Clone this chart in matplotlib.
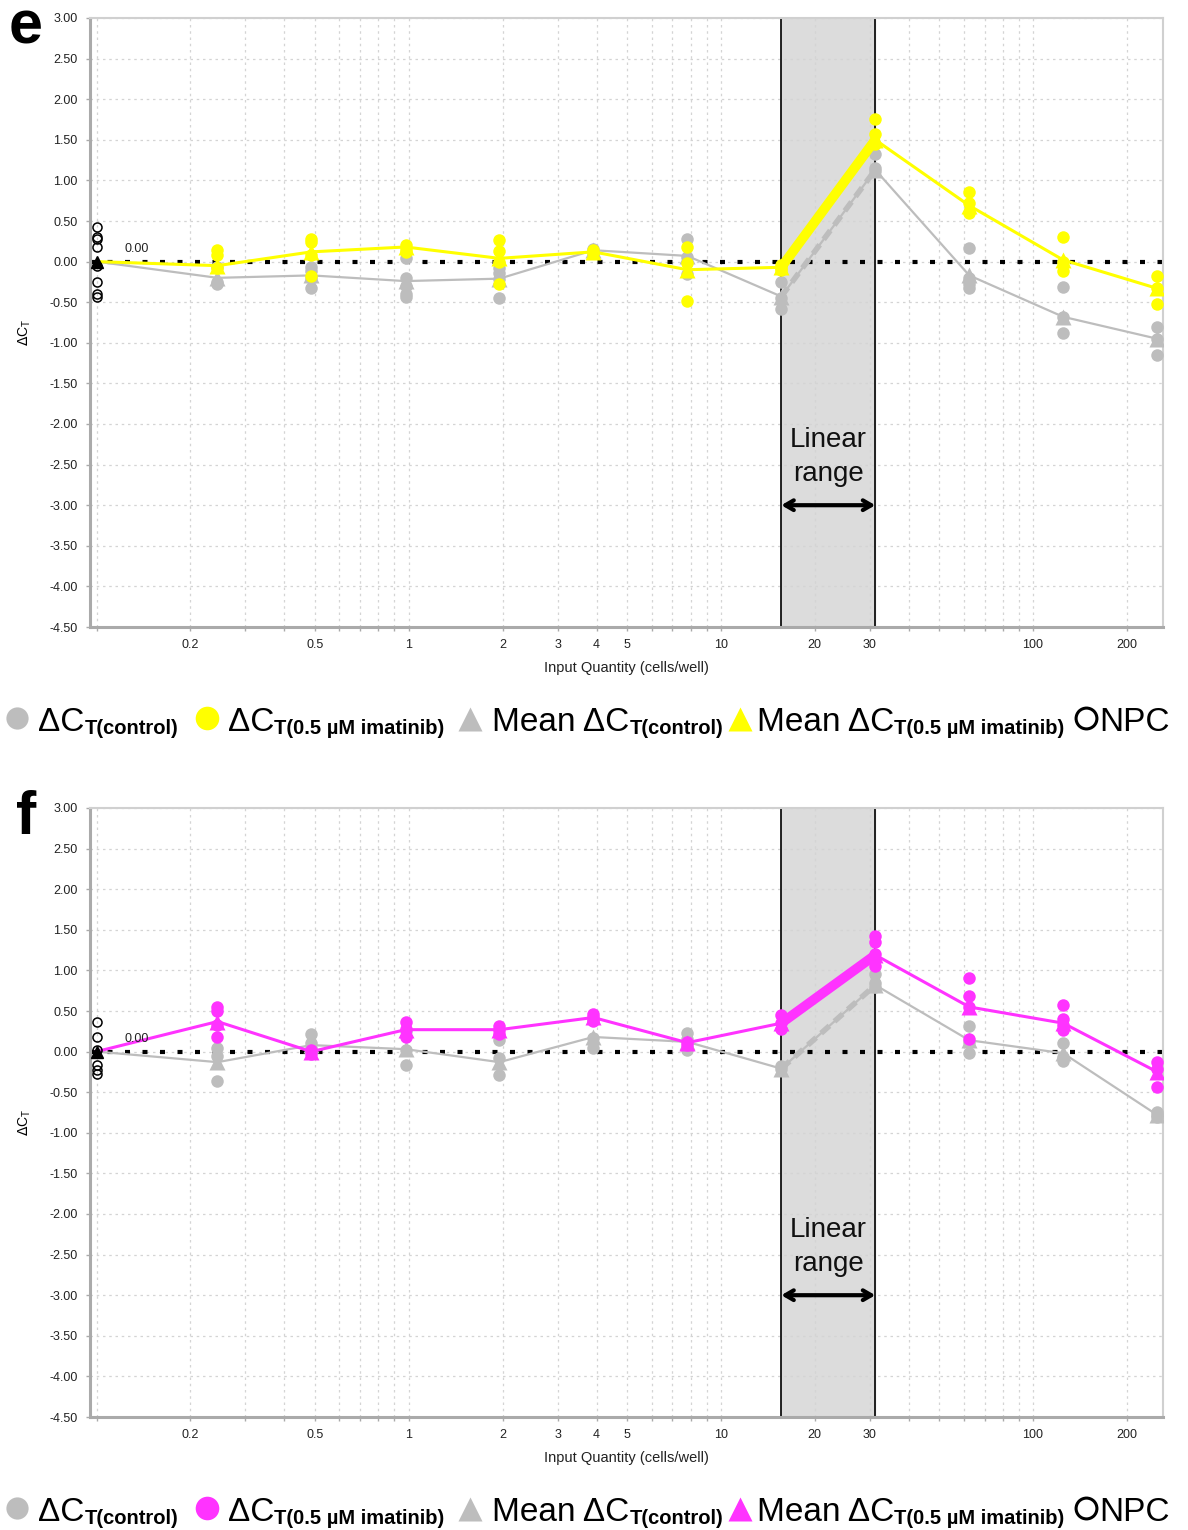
import numpy as np
import matplotlib
matplotlib.use("Agg")
import matplotlib.pyplot as plt
from matplotlib.ticker import NullLocator

# ---------------- data ----------------
x_start = 0.1
x_levels = [0.244, 0.488, 0.977, 1.953, 3.906, 7.8125, 15.625, 31.25, 62.5, 125, 250]
linear_range = [15.625, 31.25]

npc_e = [0.43, 0.30, 0.28, 0.18, -0.05, -0.25, -0.40, -0.43]
ctrl_e_pts = [
    [-0.07, -0.25, -0.28],
    [-0.07, -0.12, -0.20, -0.33],
    [0.05, -0.20, -0.30, -0.40, -0.43],
    [-0.08, -0.14, -0.22, -0.45],
    [0.15, 0.12],
    [0.28, 0.06, -0.15],
    [-0.25, -0.45, -0.58],
    [1.32, 1.15, 1.12],
    [0.17, -0.20, -0.28, -0.33],
    [-0.31, -0.68, -0.88],
    [-0.80, -0.95, -1.15]]
ctrl_e_mean = [-0.20, -0.17, -0.24, -0.21, 0.14, 0.07, -0.43, 1.13, -0.17, -0.68, -0.95]
imat_e_pts = [
    [0.14, 0.08, -0.08],
    [0.28, 0.24, 0.08, -0.18],
    [0.20, 0.16, 0.12],
    [0.27, 0.13, 0.0, -0.27],
    [0.14, 0.11],
    [0.18, -0.02, -0.48],
    [-0.04, -0.08, -0.10],
    [1.75, 1.57, 1.45],
    [0.86, 0.72, 0.60],
    [0.30, 0.0, -0.12],
    [-0.18, -0.33, -0.52]]
imat_e_mean = [-0.05, 0.12, 0.18, 0.04, 0.12, -0.10, -0.07, 1.50, 0.69, 0.02, -0.33]

npc_f = [0.36, 0.18, 0.02, -0.17, -0.23, -0.27]
ctrl_f_pts = [
    [0.04, -0.05, -0.36],
    [0.22, 0.10, 0.04],
    [0.25, 0.02, -0.16],
    [0.14, -0.08, -0.29],
    [0.40, 0.17, 0.05],
    [0.23, 0.15, 0.02],
    [-0.18, -0.22],
    [0.95, 0.85, 0.80],
    [0.32, 0.12, -0.02],
    [0.10, -0.07, -0.12],
    [-0.74, -0.78, -0.80]]
ctrl_f_mean = [-0.13, 0.08, 0.03, -0.13, 0.18, 0.12, -0.21, 0.82, 0.14, -0.02, -0.78]
imat_f_pts = [
    [0.55, 0.50, 0.33, 0.18],
    [0.02, -0.03],
    [0.36, 0.28, 0.18],
    [0.32, 0.27, 0.22],
    [0.46, 0.42, 0.38],
    [0.12, 0.08],
    [0.45, 0.35, 0.28],
    [1.42, 1.35, 1.20, 1.05],
    [0.91, 0.68, 0.55, 0.15],
    [0.57, 0.40, 0.33, 0.26],
    [-0.13, -0.22, -0.44]]
imat_f_mean = [0.37, 0.0, 0.27, 0.27, 0.42, 0.11, 0.35, 1.19, 0.55, 0.35, -0.25]

x_tick_labels = {0.2: "0.2", 0.5: "0.5", 1: "1", 2: "2", 3: "3", 4: "4", 5: "5",
                 10: "10", 20: "20", 30: "30", 100: "100", 200: "200"}
y_ticks = [3.0, 2.5, 2.0, 1.5, 1.0, 0.5, 0.0, -0.5, -1.0, -1.5, -2.0, -2.5, -3.0, -3.5, -4.0, -4.5]

GRAY = "#bdbdbd"
YELLOW = "#ffff00"
MAGENTA = "#ff33ff"
FONT = "Liberation Sans"

W, H = 1188, 1530
plt.rcParams["font.family"] = [FONT, "DejaVu Sans"]
fig = plt.figure(figsize=(W / 100, H / 100), dpi=100)


def setup_axes(ax):
    ax.set_xscale("log")
    ax.set_xlim(0.0953, 261)
    ax.set_ylim(-4.5, 3.0)
    grid_x = [m * 10.0 ** e for e in (-1, 0, 1, 2) for m in range(1, 10) if m * 10.0 ** e <= 260]
    ax.set_xticks(grid_x)
    labels = []
    for v in grid_x:
        lab = ""
        for k, s in x_tick_labels.items():
            if abs(v - k) < 1e-6:
                lab = s
        labels.append(lab)
    ax.set_xticklabels(labels)
    ax.xaxis.set_minor_locator(NullLocator())
    ax.set_yticks(y_ticks)
    ax.set_yticklabels([f"{v:.2f}" for v in y_ticks])
    ax.tick_params(axis="both", labelsize=9, colors="#aaaaaa", labelcolor="#222222",
                   length=3, width=1, pad=6)
    ax.grid(True, which="major", color="#d4d4d4", ls=(0, (2, 3)), lw=0.9)
    for s in ("left", "bottom"):
        ax.spines[s].set_color("#aaaaaa")
        ax.spines[s].set_linewidth(2.2)
    for s in ("top", "right"):
        ax.spines[s].set_color("#d0d0d0")
        ax.spines[s].set_linewidth(1.5)
    ax.set_axisbelow(True)


def draw_panel(ax, npc, c_pts, c_mean, t_pts, t_mean, tcolor):
    setup_axes(ax)
    ax.axvspan(linear_range[0], linear_range[1], color="#dcdcdc", zorder=0.5)
    for xv in linear_range:
        ax.axvline(xv, color="black", lw=1.2, zorder=0.6)
    ax.axhline(0, color="black", ls=(0, (1.2, 3.0)), lw=3, zorder=1)

    xs = [x_start] + x_levels
    cm = [0.0] + c_mean
    tm = [0.0] + t_mean
    # control
    for xv, pts in zip(x_levels, c_pts):
        ax.plot([xv] * len(pts), pts, "o", color=GRAY, ms=9, mec="none", zorder=3)
    ax.plot(xs, cm, "-", color=GRAY, lw=1.6, zorder=2)
    ax.plot(linear_range, c_mean[6:8], color=GRAY, lw=4, ls=(0, (2, 1.2)), zorder=2.5)
    ax.plot(x_levels, c_mean, "^", color=GRAY, ms=11, mec="none", zorder=3.5)
    # treatment
    for xv, pts in zip(x_levels, t_pts):
        ax.plot([xv] * len(pts), pts, "o", color=tcolor, ms=9, mec="none", zorder=4)
    ax.plot(xs, tm, "-", color=tcolor, lw=2.2, zorder=4.2)
    ax.plot(linear_range, t_mean[6:8], color=tcolor, lw=7, solid_capstyle="round", zorder=4.3)
    ax.plot(x_levels, t_mean, "^", color=tcolor, ms=11, mec="none", zorder=4.5)
    # NPC
    ax.plot([x_start] * len(npc), npc, "o", mfc="none", mec="black", ms=6.5, mew=1.1, zorder=5)
    ax.plot([x_start], [0.0], "^", color="black", ms=9, zorder=5.5)
    ax.text(0.134, 0.16, "0.00", fontsize=9, ha="center", va="center", color="#222222", zorder=6)
    # linear range annotation
    xm = np.sqrt(linear_range[0] * linear_range[1])
    ax.text(xm, -2.41, "Linear\nrange", fontsize=20, ha="center", va="center",
            linespacing=1.38, color="#111111", zorder=6)
    ax.annotate("", xy=(linear_range[0], -3.0), xytext=(linear_range[1], -3.0),
                arrowprops=dict(arrowstyle="<->,head_length=0.6,head_width=0.35",
                                lw=3, color="black", shrinkA=0, shrinkB=0), zorder=6)


ax_e = fig.add_axes([90 / W, 1 - 627 / H, 1073 / W, 609 / H])
ax_f = fig.add_axes([90 / W, 1 - 1417 / H, 1073 / W, 609 / H])
draw_panel(ax_e, npc_e, ctrl_e_pts, ctrl_e_mean, imat_e_pts, imat_e_mean, YELLOW)
draw_panel(ax_f, npc_f, ctrl_f_pts, ctrl_f_mean, imat_f_pts, imat_f_mean, MAGENTA)

# overlay for labels & legends, in pixel coords
ov = fig.add_axes([0, 0, 1, 1], zorder=-1)
ov.set_xlim(0, W)
ov.set_ylim(H, 0)
ov.axis("off")
renderer = fig.canvas.get_renderer()


def runs(x, y, parts):
    for s, size, weight, dy, gap in parts:
        t = ov.text(x, y + dy, s, fontsize=size, fontweight=weight, ha="left", va="baseline",
                    color="black")
        bb = t.get_window_extent(renderer)
        x += bb.width + gap
    return x


MAIN, SUB = 24, 14.5


def legend_row(yc, tcolor):
    base = yc + 13
    ov.plot([17], [yc], "o", color=GRAY, ms=16, mec="none", clip_on=False)
    runs(38, base, [("\u0394C", MAIN, "normal", 0, 0), ("T(control)", SUB, "bold", 3, 0)])
    ov.plot([207], [yc], "o", color=tcolor, ms=17, mec="none", clip_on=False)
    runs(228, base, [("\u0394C", MAIN, "normal", 0, 0), ("T(0.5 \u00b5M imatinib)", SUB, "bold", 3, 0)])
    ov.plot([470], [yc + 1], "^", color=GRAY, ms=17, mec="none", clip_on=False)
    runs(492, base, [("Mean \u0394C", MAIN, "normal", 0, 0), ("T(control)", SUB, "bold", 3, 0)])
    ov.plot([740], [yc + 1], "^", color=tcolor, ms=17, mec="none", clip_on=False)
    runs(757, base, [("Mean \u0394C", MAIN, "normal", 0, 0), ("T(0.5 \u00b5M imatinib)", SUB, "bold", 3, 0)])
    ov.plot([1086], [yc], "o", mfc="none", mec="black", ms=15, mew=2.2, clip_on=False)
    runs(1099, base, [("NPC", MAIN, "normal", 0, 0)])


for (ytop, ybot, letter, tcolor) in [(18, 627, "e", YELLOW), (808, 1417, "f", MAGENTA)]:
    ov.text(26, ytop + 10, letter, fontsize=44, fontweight="bold", ha="center", va="center")
    ov.text(25, (ytop + ybot) / 2 + 10, r"$\Delta$C$_\mathregular{T}$", fontsize=10,
            rotation=90, ha="center", va="center")
    ov.text(626, ybot + 41, "Input Quantity (cells/well)", fontsize=10.5,
            ha="center", va="center", color="#222222")
    legend_row(ybot + 91, tcolor)

fig.savefig("out.png", dpi=100)
